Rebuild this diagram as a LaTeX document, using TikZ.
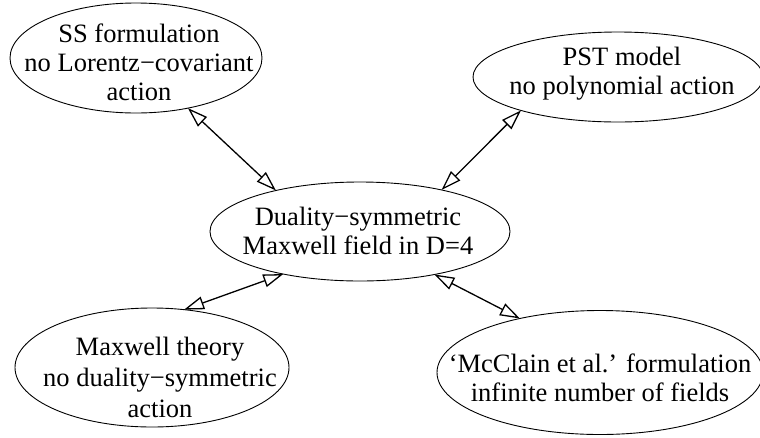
\documentclass[tikz,border=0pt]{standalone}
\usepackage{fontspec}
\setmainfont{Liberation Serif}
\usepackage{tikz}
\usetikzlibrary{shapes.geometric,arrows.meta}
\tikzset{blob/.style={draw,ellipse,line width=0.9pt,inner sep=0pt,outer sep=0pt},
         lbl/.style={align=center,inner sep=0pt,font=\fontsize{26.5}{29}\selectfont},
         link/.style={line width=1.3pt,{Triangle[open,length=20pt,width=13pt]}-{Triangle[open,length=20pt,width=13pt]}}}

\begin{document}
\begin{tikzpicture}[x=1pt,y=-1pt]
            \useasboundingbox (0,0) rectangle (760,437);
            % эллипсы
            \node[blob,minimum width=252pt,minimum height=110pt] (ss) at (136,58) {};
            \node[blob,minimum width=290pt,minimum height=90pt] (pst) at (618,77) {};
            \node[blob,minimum width=300pt,minimum height=99pt] (dual) at (360,231.5) {};
            \node[blob,minimum width=274pt,minimum height=119pt] (maxw) at (152,367.5) {};
            \node[blob,minimum width=326pt,minimum height=124pt] (mccl) at (600,372.5) {};
            % подписи
            \node[lbl] (sstxt) at (139,62) {SS formulation\\no Lorentz−covariant\\action};
            \node[lbl] (psttxt) at (622,73.3) {PST model\\no polynomial action};
            \node[lbl] (dualtxt) at (358,230.5) {Duality−symmetric\\Maxwell field in D=4};
            \node[lbl,font=\fontsize{26.5}{31}\selectfont] (maxwtxt) at (160,377) {Maxwell theory\\no duality−symmetric\\action};
            \node[lbl] (mccltxt) at (600,377.5) {‘McClain et al.’ formulation\\infinite number of fields};
            % связи
            \draw[link] (ss.-44) -- (dual.154);
            \draw[link] (pst.-161) -- (dual.27);
            \draw[link] (maxw.61.6) -- (dual.-151.7);
            \draw[link] (mccl.146) -- (dual.-30);
\end{tikzpicture}
\end{document}
